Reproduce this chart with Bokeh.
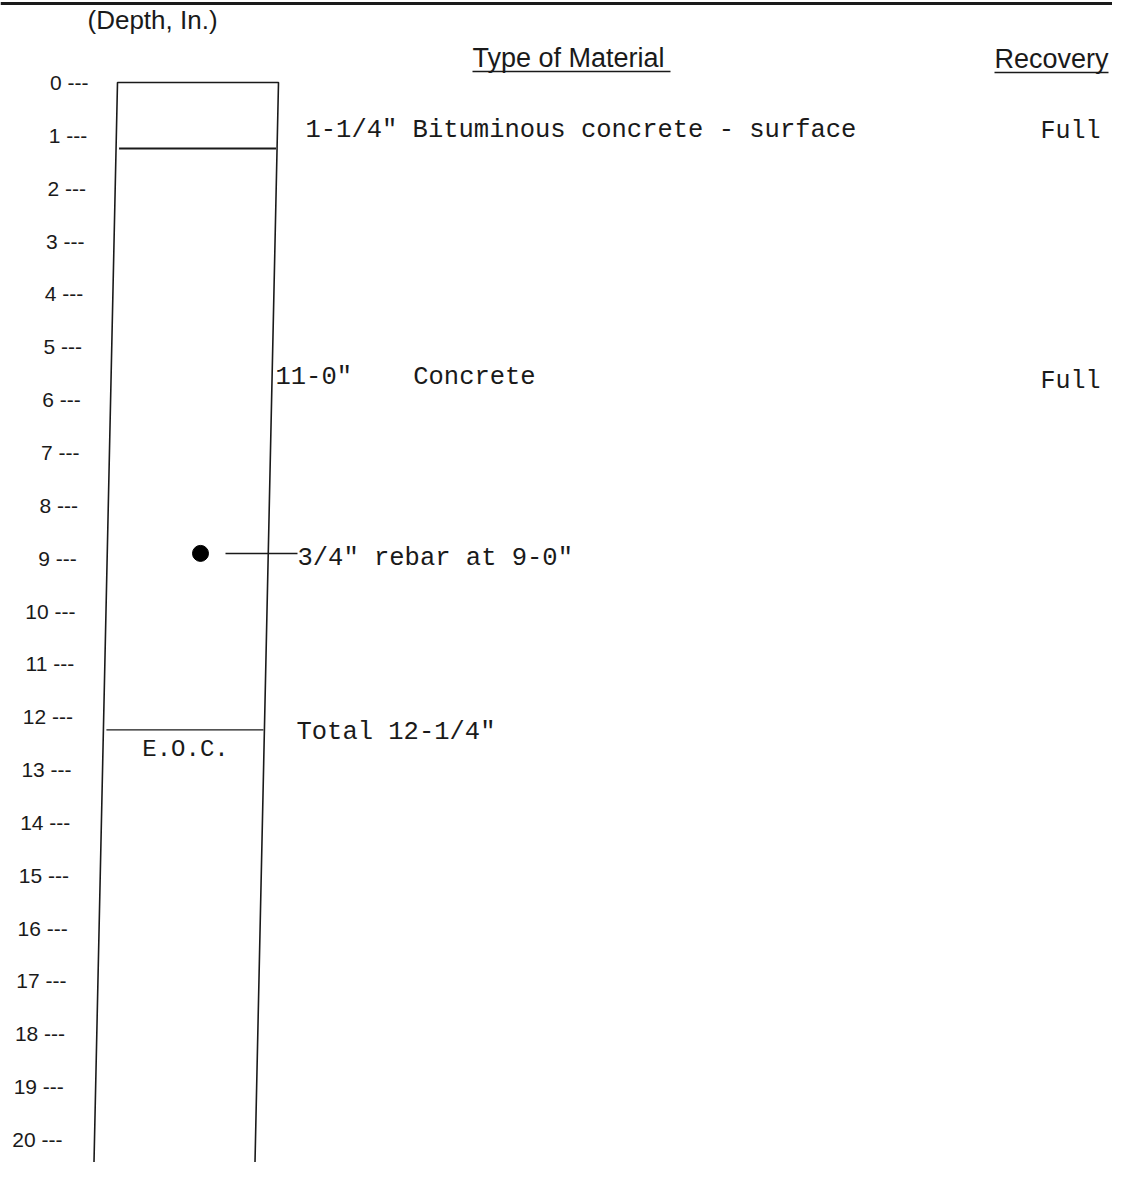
from bokeh.plotting import figure
from bokeh.models import Range1d
from bokeh.core.properties import value
from bokeh.embed import file_html
from bokeh.resources import INLINE

# ---------------- data ----------------
depth_ticks = list(range(0, 21))
tick_labels = [f"{d} ---" for d in depth_ticks]

layer_tops = [0.0, 1.25]
layer_bottoms = [1.25, 12.25]
layer_labels = ['1-1/4" Bituminous concrete - surface', '11-0"\u00a0\u00a0\u00a0\u00a0Concrete']
recovery = ["Full", "Full"]

rebar_depth = 9.0
rebar_label = '3/4" rebar at 9-0"'
total_depth = 12.25
total_label = 'Total 12-1/4"'
end_label = "E.O.C."

axis_title = "(Depth, In.)"
col_header_material = "Type of Material"
col_header_recovery = "Recovery"

# ---------------- layout ----------------
W, H = 1112, 1162
PX_PER_IN = 52.85
Y0 = 82.0          # screen y of depth 0
def scr2depth(sy):
    return (sy - Y0) / PX_PER_IN

SKEW_COL = 1.15    # scan skew (px per inch)
SKEW_LBL = 1.3
COL_L, COL_R = 117.0, 278.0
D_BOTTOM = scr2depth(H)
D_TOP = scr2depth(0)

p = figure(width=W, height=H, output_backend="svg", toolbar_location=None,
           x_range=Range1d(0, W), y_range=Range1d(D_BOTTOM, D_TOP),
           min_border=0, x_axis_location=None, y_axis_location=None)
p.outline_line_color = None
p.grid.visible = False
p.background_fill_color = "white"
p.border_fill_color = "white"

INK = "#1a1a1a"
MONO = value("Liberation Mono")
SANS = value("Liberation Sans")

def cx(x0, d, k=SKEW_COL):
    return x0 - k * d

# top rule
p.segment(x0=[0], y0=[scr2depth(3)], x1=[W], y1=[scr2depth(3)], line_color=INK, line_width=3)

# depth tick labels
p.text(x=[cx(88, d, SKEW_LBL) for d in depth_ticks], y=depth_ticks, text=tick_labels,
       text_font=SANS, text_font_size="21px", text_align="right", text_baseline="middle",
       text_color=INK)

# axis title and headers
p.text(x=[87], y=[scr2depth(19)], text=[axis_title], text_font=SANS, text_font_size="26px",
       text_baseline="middle", text_color=INK)
p.text(x=[472, 994], y=[scr2depth(57), scr2depth(58)],
       text=[col_header_material, col_header_recovery], text_font=SANS,
       text_font_size="27px", text_baseline="middle", text_color=INK)
p.segment(x0=[472, 994], y0=[scr2depth(71), scr2depth(72)],
          x1=[670, 1108], y1=[scr2depth(71), scr2depth(72)], line_color=INK, line_width=1.5)

# column outline (skewed like the scan)
p.line(x=[cx(COL_L, D_BOTTOM), cx(COL_L, 0), cx(COL_R, 0), cx(COL_R, D_BOTTOM)],
       y=[D_BOTTOM, 0, 0, D_BOTTOM], line_color=INK, line_width=1.6)

# layer boundaries
bounds = layer_bottoms
p.segment(x0=[cx(COL_L, b) + 3 for b in bounds], y0=bounds,
          x1=[cx(COL_R, b) - 1 for b in bounds], y1=bounds,
          line_color=INK, line_width=[2.0, 1.4])

# layer descriptions
label_depths = [scr2depth(130), scr2depth(377)]
label_x = [305, 275]
p.text(x=label_x, y=label_depths, text=layer_labels, text_font=MONO, text_font_size="25.5px",
       text_baseline="middle", text_color=INK)
p.text(x=[1040, 1040], y=[scr2depth(131), scr2depth(381)], text=recovery, text_font=MONO,
       text_font_size="25px", text_baseline="middle", text_color=INK)

# rebar
rd = rebar_depth - 0.09
p.scatter(x=[200], y=[rd], size=16, marker="circle", fill_color="black", line_color="black")
p.segment(x0=[225], y0=[rd], x1=[297], y1=[rd], line_color=INK, line_width=1.5)
p.text(x=[297], y=[rebar_depth], text=[rebar_label], text_font=MONO, text_font_size="25.5px",
       text_baseline="middle", text_color=INK)

# total and end of core
p.text(x=[296], y=[total_depth + 0.05], text=[total_label], text_font=MONO,
       text_font_size="25.5px", text_baseline="middle", text_color=INK)
p.text(x=[185], y=[total_depth + 0.37], text=[end_label], text_font=MONO,
       text_font_size="24px", text_align="center", text_baseline="middle", text_color=INK)

open("out.html", "w").write(file_html(p, INLINE))
